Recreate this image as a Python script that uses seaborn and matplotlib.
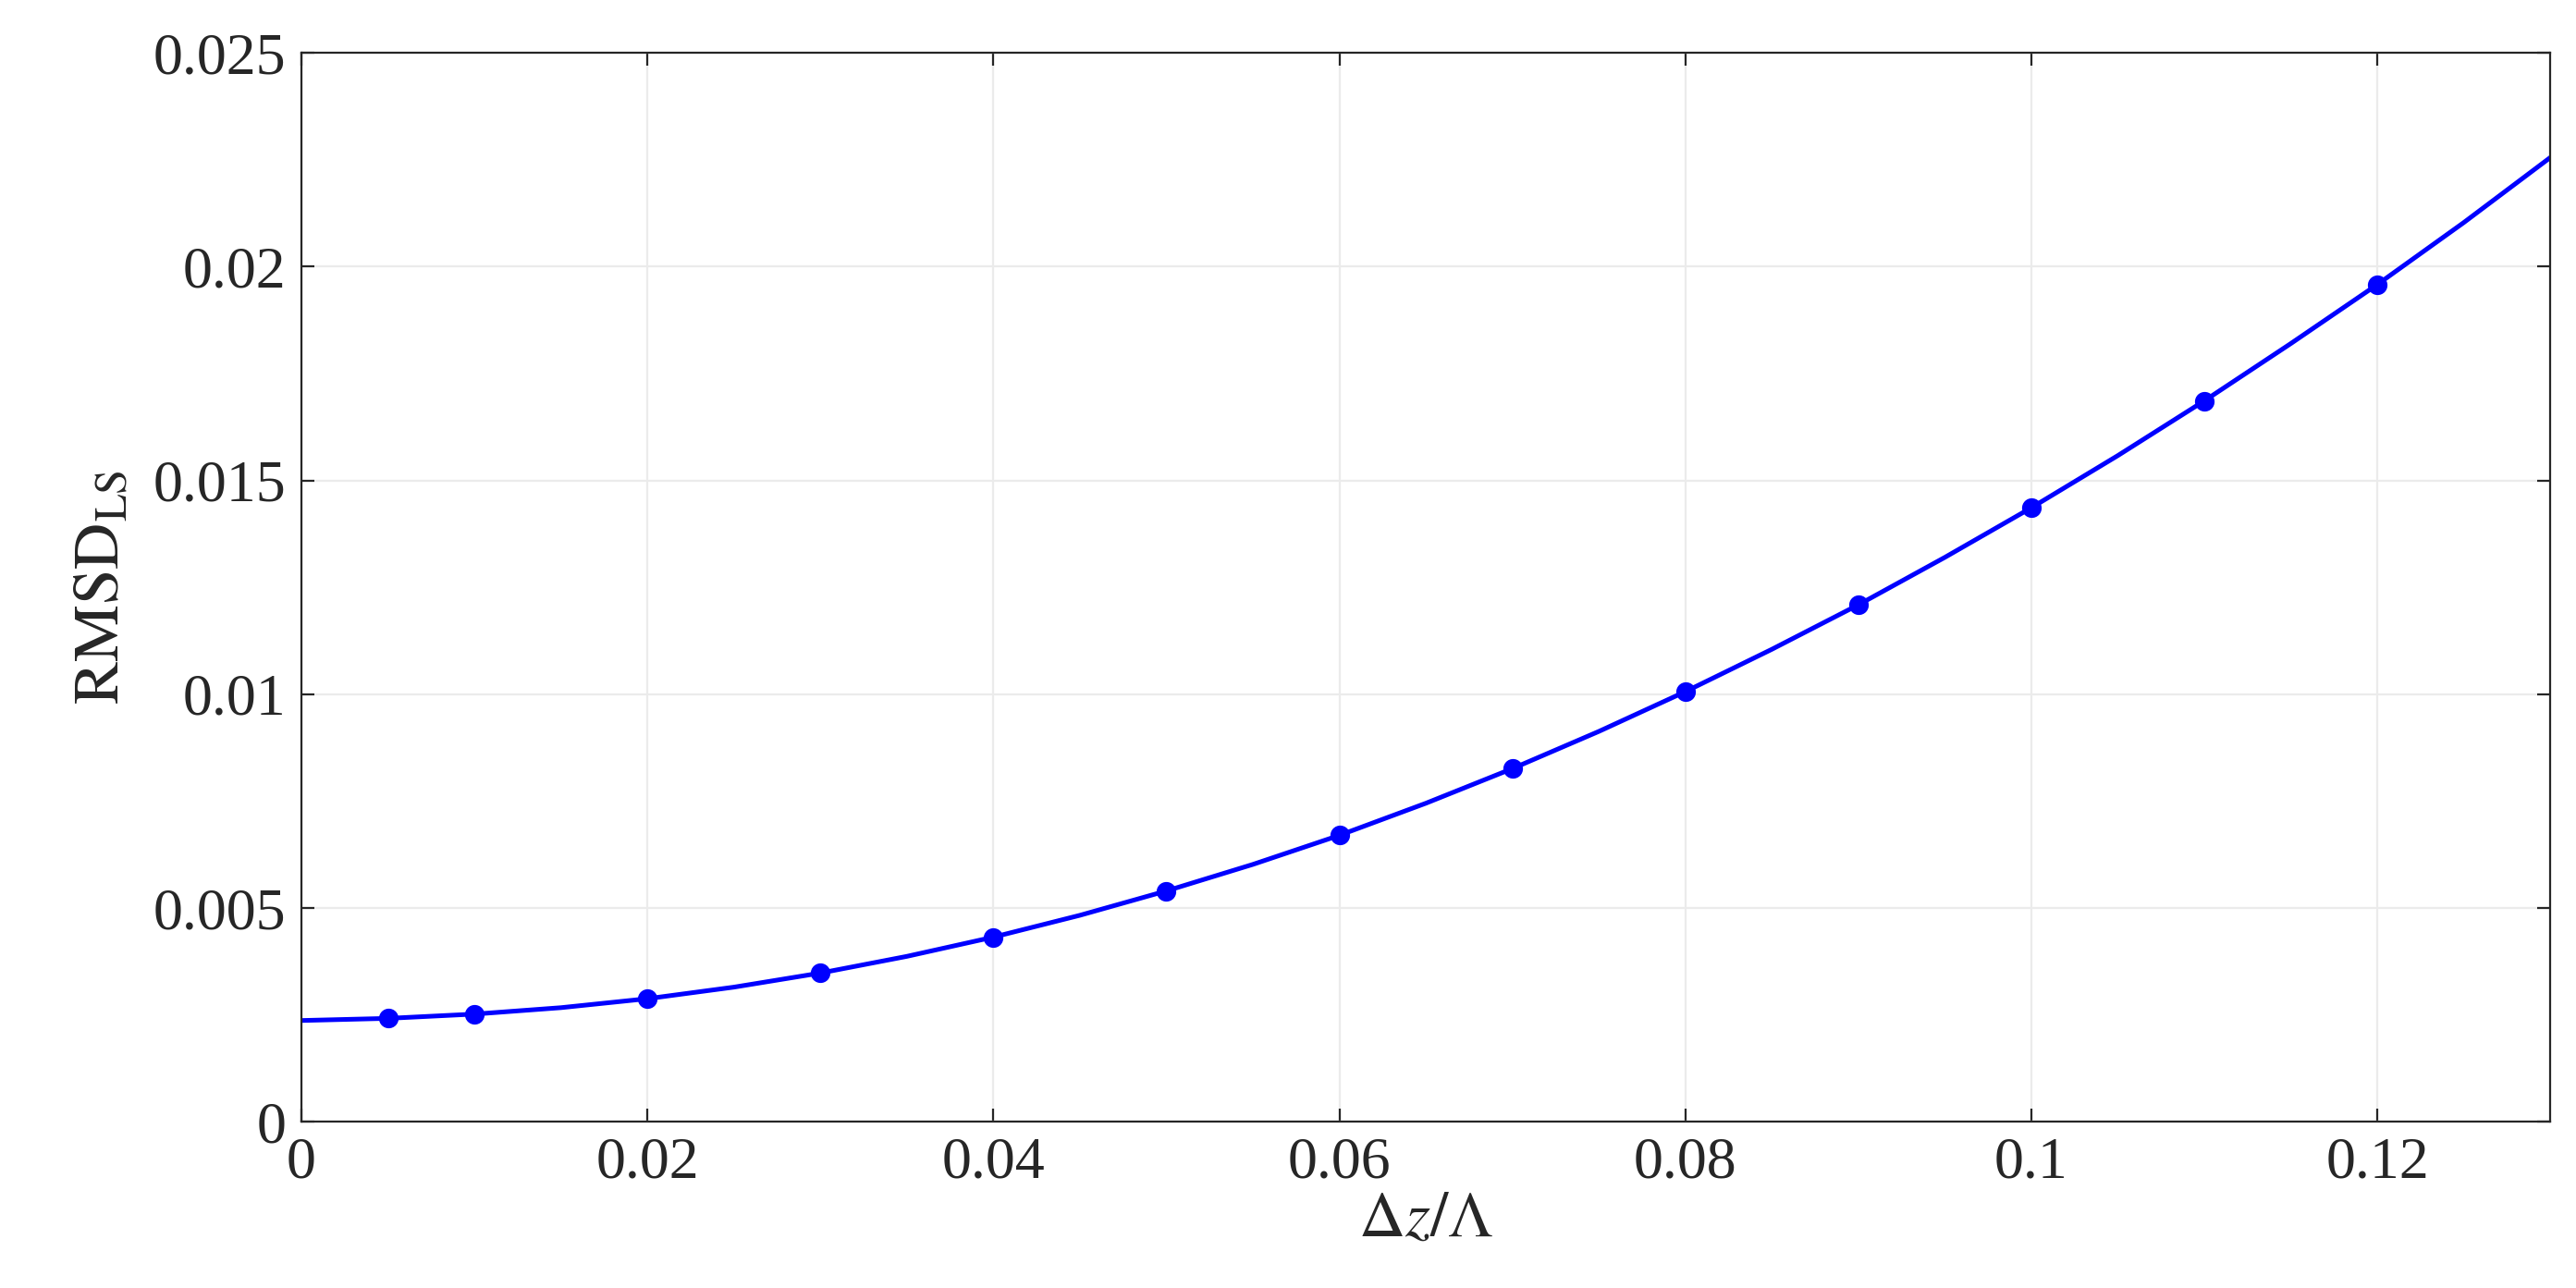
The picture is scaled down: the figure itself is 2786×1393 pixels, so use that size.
import matplotlib
matplotlib.use("Agg")
import matplotlib.pyplot as plt
import seaborn as sns
import pandas as pd

x_pts = [0.005, 0.01, 0.02, 0.03, 0.04, 0.05, 0.06, 0.07, 0.08, 0.09, 0.10, 0.11, 0.12]
y_pts = [0.00242, 0.00252, 0.00288, 0.00348, 0.00432, 0.0054, 0.0067, 0.00826, 0.01006, 0.01209, 0.01436, 0.01686, 0.01958]
x_line = [0.0, 0.005, 0.01, 0.015, 0.02, 0.025, 0.03, 0.035, 0.04, 0.045, 0.05, 0.055, 0.06, 0.065, 0.07, 0.075, 0.08, 0.085, 0.09, 0.095, 0.10, 0.105, 0.11, 0.115, 0.12, 0.125, 0.13]
y_line = [0.00237, 0.00242, 0.00252, 0.00267, 0.00288, 0.00315, 0.00348, 0.00387, 0.00432, 0.00483, 0.0054, 0.00602, 0.0067, 0.00745, 0.00826, 0.00913, 0.01006, 0.01105, 0.01209, 0.0132, 0.01436, 0.01558, 0.01686, 0.0182, 0.01958, 0.02103, 0.02255]
xticks = [0, 0.02, 0.04, 0.06, 0.08, 0.1, 0.12]
xticklabels = ["0", "0.02", "0.04", "0.06", "0.08", "0.1", "0.12"]
yticks = [0, 0.005, 0.01, 0.015, 0.02, 0.025]
yticklabels = ["0", "0.005", "0.01", "0.015", "0.02", "0.025"]

sns.set_theme(style="whitegrid")
plt.rcParams['font.family'] = ['Liberation Serif', 'DejaVu Serif']
plt.rcParams['mathtext.fontset'] = 'stix'

fig = plt.figure(figsize=(13.93, 6.965), dpi=200)
ax = fig.add_axes([0.117, 0.129, 0.873, 0.83])
sns.lineplot(x=x_line, y=y_line, ax=ax, color="#0000ff", linewidth=1.8)
sns.scatterplot(x=x_pts, y=y_pts, ax=ax, color="#0000ff", s=50, edgecolor="#0000ff", zorder=3)
ax.set_xlim(0, 0.13)
ax.set_ylim(0, 0.025)
ax.set_xticks(xticks)
ax.set_xticklabels(xticklabels)
ax.set_yticks(yticks)
ax.set_yticklabels(yticklabels)
ax.tick_params(labelsize=23, colors="#262626", direction="in", length=5, width=0.8,
               bottom=True, left=True, top=True, right=True, labeltop=False, labelright=False, pad=6)
ax.grid(True, color="#ebebeb", linewidth=0.8)
for s in ax.spines.values():
    s.set_color("#262626")
    s.set_linewidth(0.8)
ax.set_facecolor("white")
ax.set_xlabel(r"$\Delta z/\Lambda$", fontsize=25, labelpad=0)
ax.set_ylabel(r"$\mathrm{RMSD}_{\mathrm{LS}}$", fontsize=25, labelpad=8)
fig.savefig("out.png", dpi=200, facecolor="white")
